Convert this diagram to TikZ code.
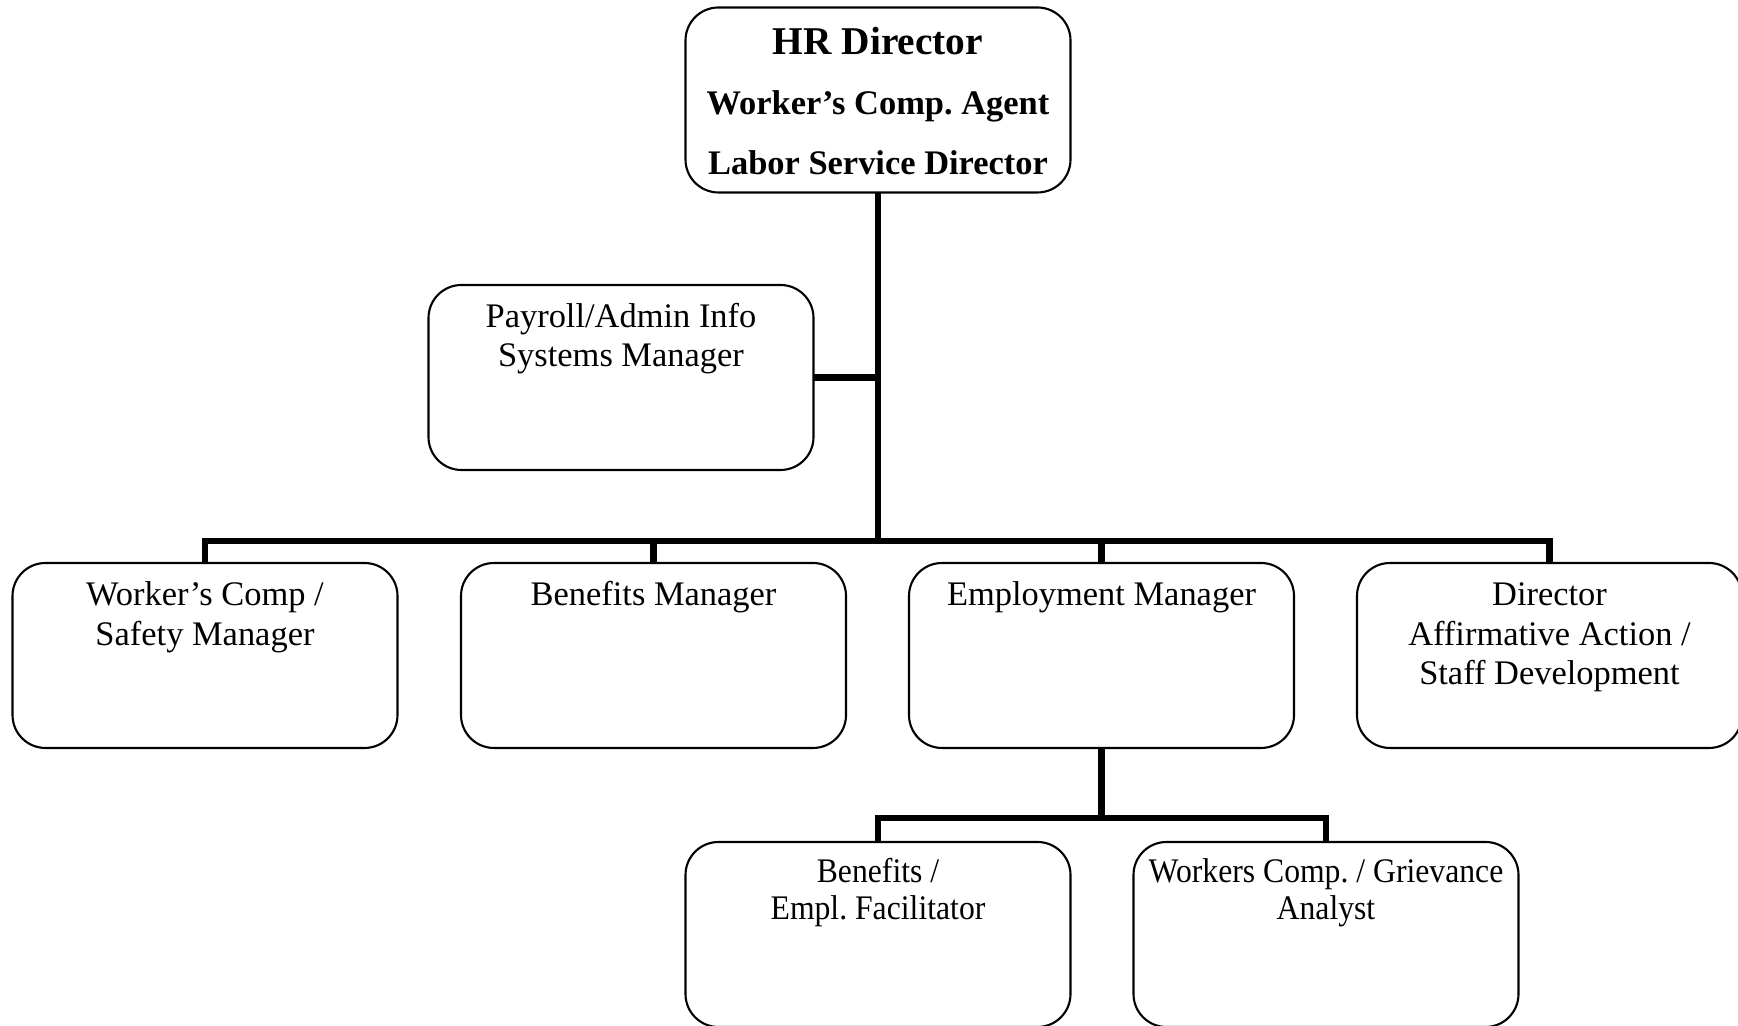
\documentclass[tikz,border=0pt]{standalone}
\usepackage{fontspec}
\setmainfont{Liberation Serif}
\newcommand{\schrift}{\fontsize{9.8}{11.2}\selectfont\frenchspacing}
\newcommand{\schmalschrift}{\fontsize{9.8}{10.6}\selectfont\addfontfeatures{FakeStretch=0.92}\frenchspacing}
\newcommand{\chefschrift}{\fontsize{9.8}{17.1}\selectfont\bfseries\frenchspacing}
\newcommand{\stelle}[2][4.3mm]{\parbox[c][18.5mm][t]{38.5mm}{\centering\rule{0pt}{#1}#2}}
\tikzset{kasten/.style={draw,line width=0.6pt,rounded corners=3.3mm,inner sep=0,outer sep=0,font=\schrift},
  linie/.style={line width=1.9pt}}

\begin{document}
\begin{tikzpicture}[x=1mm,y=1mm]
\useasboundingbox (0,0) rectangle (173.8,102.6);
\coordinate (schiene) at (0,48.5);
\coordinate (schieneunten) at (0,20.8);
% Leitung
\node[kasten,font=\chefschrift] (hr) at (87.8,92.6) {\stelle[4.7mm]{{\fontsize{11.2}{17.1}\selectfont HR Director}\\Worker's Comp. Agent\\Labor Service Director}};
\node[kasten] (pay) at (62.1,64.85) {\stelle[4.25mm]{Payroll/Admin Info\\Systems Manager}};
% zweite Ebene
\node[kasten] (wc) at (20.5,37.05) {\stelle{Worker's Comp /\\Safety Manager}};
\node[kasten] (ben) at (65.35,37.05) {\stelle{Benefits Manager}};
\node[kasten] (emp) at (110.15,37.05) {\stelle{Employment Manager}};
\node[kasten] (dir) at (154.95,37.05) {\stelle{Director\\Affirmative Action /\\Staff Development}};
% dritte Ebene
\node[kasten,font=\schmalschrift] (bf) at (87.8,9.15) {\stelle[4.05mm]{Benefits /\\Empl. Facilitator}};
\node[kasten,font=\schmalschrift] (wcg) at (132.6,9.15) {\stelle[4.05mm]{Workers Comp. / Grievance\\Analyst}};
% Verbindungen
\draw[linie] (hr.south) -- (hr.south |- schiene);
\draw[linie] (pay.east) -- (pay.east -| hr.south);
\draw[linie] (wc.north) |- (dir.north |- schiene) -- (dir.north);
\draw[linie] (ben.north) -- (ben.north |- schiene);
\draw[linie] (emp.north) -- (emp.north |- schiene);
\draw[linie] (emp.south) -- (emp.south |- schieneunten);
\draw[linie] (bf.north) |- (wcg.north |- schieneunten) -- (wcg.north);
\end{tikzpicture}
\end{document}
